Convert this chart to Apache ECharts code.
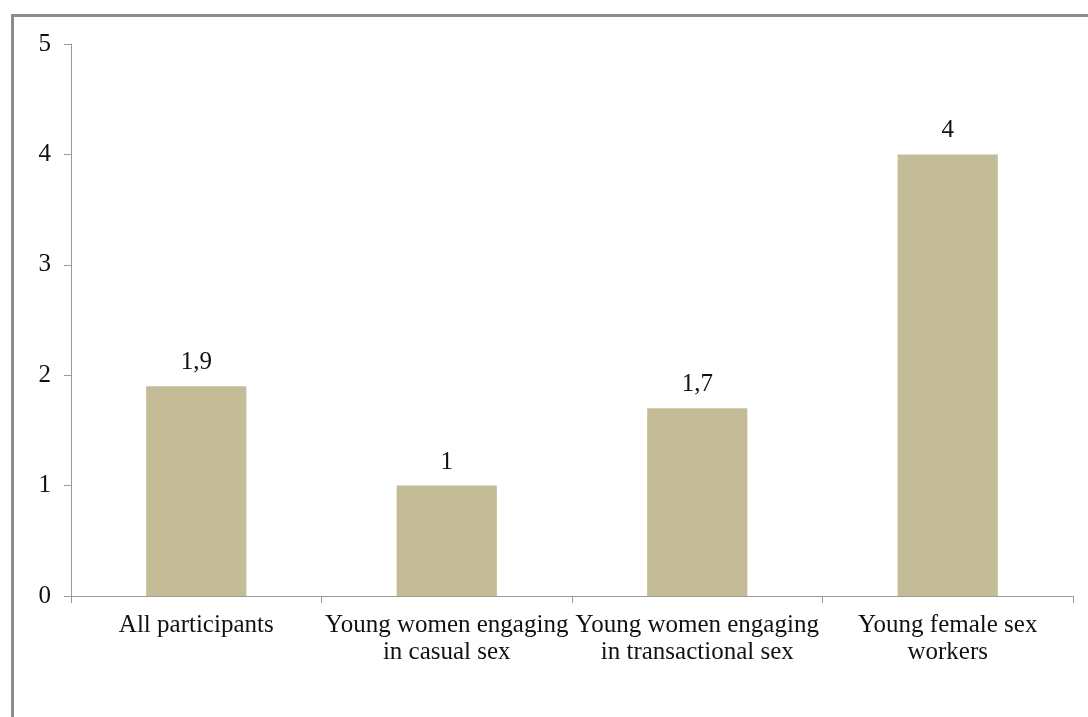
<!DOCTYPE html>
<html><head><meta charset="utf-8">
<script src="https://cdn.jsdelivr.net/npm/echarts@6/dist/echarts.min.js"></script>
<style>html,body{margin:0;padding:0;background:#fff}#c{width:1088px;height:717px}</style>
</head><body><div id="c"></div>
<script>
var categories = ["All participants", "Young women engaging\nin casual sex", "Young women engaging\nin transactional sex", "Young female sex\nworkers"];
var values = [1.9, 1, 1.7, 4];
var yTicks = [0, 1, 2, 3, 4, 5];

var font = "'Liberation Serif', 'Times New Roman', serif";
var chart = echarts.init(document.getElementById('c'));
chart.setOption({
  animation: false,
  backgroundColor: '#fff',
  graphic: [{
    type: 'rect', left: 10, top: 13,
    shape: { x: 0, y: 0, width: 1100, height: 720 },
    style: { fill: 'none', stroke: '#8c8c8c', lineWidth: 3 }, z: -1
  }],
  grid: { left: 71, right: 15, top: 44, bottom: 121 },
  xAxis: {
    type: 'category', data: categories,
    axisLine: { lineStyle: { color: '#9a9a9a', width: 1 } },
    axisTick: { show: true, length: 7, alignWithLabel: false, lineStyle: { color: '#9a9a9a' } },
    axisLabel: { color: '#111', fontFamily: font, fontSize: 25, lineHeight: 27, margin: 16, interval: 0 }
  },
  yAxis: {
    type: 'value', min: yTicks[0], max: yTicks[yTicks.length - 1], interval: 1,
    axisLine: { show: true, lineStyle: { color: '#9a9a9a', width: 1 } },
    axisTick: { show: true, length: 7, lineStyle: { color: '#9a9a9a' } },
    splitLine: { show: false },
    axisLabel: { color: '#111', fontFamily: font, fontSize: 25, margin: 20,
      formatter: function (v) { return String(v).replace('.', ','); } }
  },
  series: [{
    type: 'bar', data: values, barWidth: '40%',
    itemStyle: { color: '#C4BC96' },
    label: { show: true, position: 'top', distance: 11, color: '#111', fontFamily: font, fontSize: 25,
      formatter: function (p) { return String(p.value).replace('.', ','); } }
  }]
});
</script></body></html>
